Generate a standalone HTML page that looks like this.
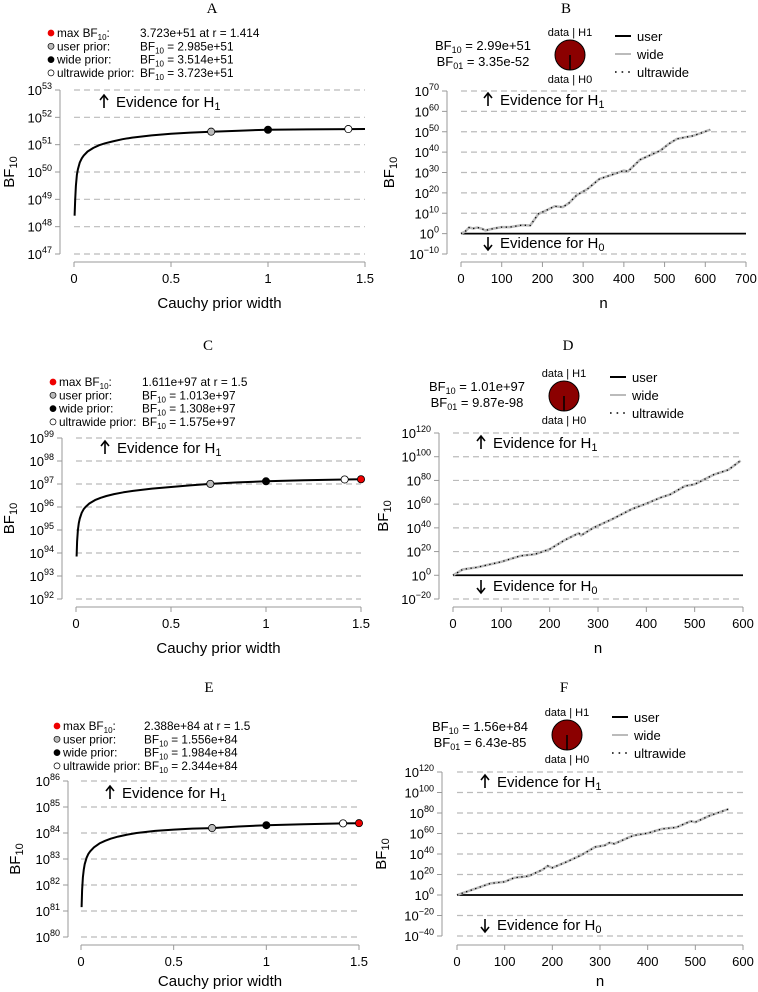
<!DOCTYPE html>
<html><head><meta charset="utf-8"><style>
body{margin:0;background:#fff;}
svg{display:block;font-family:"Liberation Sans",sans-serif;}
</style></head><body>
<svg id="fig" width="758" height="992" viewBox="0 0 758 992"></svg>
<script>
// ---------- DATA ----------
const rA = [0.003,0.006,0.01,0.015,0.02,0.03,0.04,0.05,0.07,0.1,0.13,0.16,0.2,0.25,0.3,0.4,0.5,0.6,0.707,0.85,1,1.2,1.414,1.5];
const bfA = [48.4,49.0,49.5,49.9,50.1,50.35,50.5,50.6,50.75,50.88,50.98,51.05,51.12,51.2,51.26,51.34,51.4,51.44,51.475,51.51,51.546,51.56,51.571,51.572];
const rC = [0.003,0.006,0.01,0.015,0.02,0.03,0.04,0.05,0.07,0.1,0.13,0.16,0.2,0.25,0.3,0.4,0.5,0.6,0.707,0.85,1,1.2,1.414,1.5];
const bfC = [93.85,94.5,95.0,95.3,95.5,95.75,95.9,96.0,96.15,96.3,96.4,96.48,96.56,96.64,96.7,96.8,96.87,96.94,97.006,97.07,97.117,97.16,97.197,97.207];
const rE = [0.003,0.006,0.01,0.015,0.02,0.03,0.04,0.05,0.07,0.1,0.13,0.16,0.2,0.25,0.3,0.4,0.5,0.6,0.707,0.85,1,1.2,1.414,1.5];
const bfE = [81.15,81.8,82.3,82.6,82.8,83.05,83.2,83.3,83.45,83.6,83.7,83.78,83.86,83.94,84.0,84.08,84.13,84.17,84.19,84.25,84.30,84.34,84.37,84.378];
const ptsA = [[0.707,51.475,'#bbb'],[1,51.546,'#000'],[1.414,51.571,'#fff']];
const ptsC = [[0.707,97.006,'#bbb'],[1,97.117,'#000'],[1.414,97.197,'#fff'],[1.5,97.207,'#e00']];
const ptsE = [[0.707,84.19,'#bbb'],[1,84.30,'#000'],[1.414,84.37,'#fff'],[1.5,84.378,'#e00']];
const nB = [0,10,20,30,40,50,60,80,100,120,150,170,190,210,230,250,265,285,310,340,360,380,400,410,440,470,490,510,530,550,570,590,612];
const bfB = [0,1,3,2.5,3,2.5,1.6,2.5,3.2,3.2,4.2,4,9.7,11.5,13.4,13,15,19,21.8,26.8,28.2,29.5,31,30.5,36.3,39,40.8,44,46.5,47.3,48,49.4,51];
const nD = [0,20,50,70,100,140,170,200,230,260,265,290,330,370,400,430,450,480,500,540,570,595];
const bfD = [0,5,6.7,8.6,11.4,16.4,17.8,22,29.4,35.6,33.6,40,47.5,55.8,60.5,65.6,68.3,75.3,76.7,85,89,96.7];
const nF = [0,30,70,100,120,150,180,190,200,230,260,290,310,320,330,370,400,430,460,490,500,530,570];
const bfF = [0,4.8,11.3,12.9,16.8,18.4,24.8,28.4,26.5,32.3,38.7,46.8,48.4,51,50,58,60.3,64.5,66,72,71,77.4,83.9];
const xTicksR = [0,0.5,1,1.5];
const xTickLabR = ['0','0.5','1','1.5'];
const yTicksA = [47,48,49,50,51,52,53];
const yTicksC = [92,93,94,95,96,97,98,99];
const yTicksE = [80,81,82,83,84,85,86];
const xTicksB = [0,100,200,300,400,500,600,700];
const xTicksD = [0,100,200,300,400,500,600];
const yTicksB = [-10,0,10,20,30,40,50,60,70];
const yTicksD = [-20,0,20,40,60,80,100,120];
const yTicksF = [-40,-20,0,20,40,60,80,100,120];
const legA = ['3.723e+51 at r = 1.414','BF10 = 2.985e+51','BF10 = 3.514e+51','BF10 = 3.723e+51'];
const legC = ['1.611e+97 at r = 1.5','BF10 = 1.013e+97','BF10 = 1.308e+97','BF10 = 1.575e+97'];
const legE = ['2.388e+84 at r = 1.5','BF10 = 1.556e+84','BF10 = 1.984e+84','BF10 = 2.344e+84'];

// ---------- DRAW ----------
const NS='http://www.w3.org/2000/svg';
const svg=document.getElementById('fig');
function el(tag,attrs,parent,text){const e=document.createElementNS(NS,tag);for(const k in attrs)e.setAttribute(k,attrs[k]);if(text!==undefined)e.textContent=text;(parent||svg).appendChild(e);return e;}
function sup(parent,x,y,base,exp,anchor,size){
  const t=el('text',{x:x,y:y,'font-size':size||13,'text-anchor':anchor||'start',fill:'#000'},parent);
  const a=document.createElementNS(NS,'tspan');a.textContent=base;t.appendChild(a);
  const b=document.createElementNS(NS,'tspan');b.setAttribute('dy','-6');b.setAttribute('font-size','9');b.textContent=exp;t.appendChild(b);
  return t;
}
function subText(parent,x,y,pre,sub,post,anchor,size){
  const t=el('text',{x:x,y:y,'font-size':size||13,'text-anchor':anchor||'start',fill:'#000'},parent);
  let a=document.createElementNS(NS,'tspan');a.textContent=pre;t.appendChild(a);
  let b=document.createElementNS(NS,'tspan');b.setAttribute('dy','3');b.setAttribute('font-size',Math.round((size||13)*0.7));b.textContent=sub;t.appendChild(b);
  let c=document.createElementNS(NS,'tspan');c.setAttribute('dy','-3');c.textContent=post;t.appendChild(c);
  return t;
}
function lin(d0,d1,p0,p1){return v=>p0+(v-d0)*(p1-p0)/(d1-d0);}

function axes(g,P,xTicks,xLabs,yTicks,xTitle){
  const X=lin(P.xd[0],P.xd[1],P.px0,P.px1), Y=lin(P.yd[0],P.yd[1],P.pyb,P.pyt);
  yTicks.forEach(v=>{const gl=el('line',{x1:P.px0,x2:P.px1,y1:Y(v),y2:Y(v),stroke:'#bbb','stroke-width':1.2,'stroke-dasharray':'6,4'},g);
    });
  el('line',{x1:P.ax,x2:P.ax,y1:Y(yTicks[0]),y2:Y(yTicks[yTicks.length-1]),stroke:'#999'},g);
  yTicks.forEach(v=>{el('line',{x1:P.ax-5,x2:P.ax,y1:Y(v),y2:Y(v),stroke:'#999'},g);
    const t=sup(g,P.ax-8,Y(v)+5,'10',String(v).replace('-','\u2212'),'end',13);
    });
  el('line',{x1:X(xTicks[0]),x2:X(xTicks[xTicks.length-1]),y1:P.ay,y2:P.ay,stroke:'#999'},g);
  xTicks.forEach((v,i)=>{el('line',{x1:X(v),x2:X(v),y1:P.ay,y2:P.ay+5,stroke:'#999'},g);
    const t=el('text',{x:X(v),y:P.ay+21,'font-size':13,'text-anchor':'middle'},g,xLabs[i]);
    });
  const xt=el('text',{x:(X(xTicks[0])+X(xTicks[xTicks.length-1]))/2,y:P.ay+(P.xto||46),'font-size':15,'text-anchor':'middle'},g,xTitle);
  
  const yt=subText(g,0,0,'BF','10','','middle',15);
  yt.setAttribute('transform',`translate(${P.ylx},${(P.pyb+P.pyt)/2}) rotate(-90)`);
  
  const tt=el('text',{x:P.tx,y:P.ty,'font-size':15,'text-anchor':'middle','font-family':'Liberation Serif, serif'},g,P.title);
  
  return [X,Y];
}
function evid(g,x,y,up){
  const a=el('g',{},g);
  
  el('line',{x1:x,x2:x,y1:y-6,y2:y+6,stroke:'#000','stroke-width':1.6},a);
  if(up) el('path',{d:`M${x-4},${y-2} L${x},${y-7} L${x+4},${y-2}`,fill:'none',stroke:'#000','stroke-width':1.6},a);
  else el('path',{d:`M${x-4},${y+2} L${x},${y+7} L${x+4},${y+2}`,fill:'none',stroke:'#000','stroke-width':1.6},a);
  const t=subText(g,x+12,y+5,'Evidence for H',up?'1':'0','','start',15);
  
}

function robust(name,P,rs,bfs,pts,leg,yTicks){
  const g=el('g',{});
  const [X,Y]=axes(g,P,xTicksR,xTickLabR,yTicks,'Cauchy prior width');
  evid(g,P.evx,P.evy,true);
  const d=rs.map((r,i)=>(i?'L':'M')+X(r).toFixed(1)+','+Y(bfs[i]).toFixed(1)).join(' ');
  const c=el('path',{d:d,fill:'none',stroke:'#000','stroke-width':2,'stroke-linejoin':'round'},g);
  
  pts.forEach(p=>{const m=el('circle',{cx:X(p[0]),cy:Y(p[1]),r:3.6,fill:p[2],stroke:'#000','stroke-width':0.8},g);
    });
  const cols=['#e00','#bbb','#000','#fff'];
  const labs=['max BF','user prior:','wide prior:','ultrawide prior:'];
  const fs=11.8;
  for(let i=0;i<4;i++){
    const y=P.ly+i*13.3;
    const m=el('circle',{cx:P.lx,cy:y-4,r:3,fill:cols[i],stroke:i==0?'#e00':'#000','stroke-width':0.7},g);
    
    let t;
    if(i==0) t=subText(g,P.lx+6,y,'max BF','10',':','start',fs);
    else t=el('text',{x:P.lx+6,y:y,'font-size':fs},g,labs[i]);
    
    let v;
    if(i==0) v=el('text',{x:P.vx,y:y,'font-size':fs},g,leg[0]);
    else v=subText(g,P.vx,y,'BF','10',leg[i].slice(4),'start',fs);
    
  }
}

function seq(name,P,ns,bfs,xTicks,yTicks,bf10,bf01){
  const g=el('g',{});
  const [X,Y]=axes(g,P,xTicks,xTicks.map(String),yTicks,'n');
  evid(g,P.evx,P.evy1,true);evid(g,P.evx,P.evy0,false);
  const h=el('line',{x1:P.px0,x2:P.px1,y1:Y(0),y2:Y(0),stroke:'#000','stroke-width':1.8},g);
  
  const d=ns.map((n,i)=>(i?'L':'M')+X(n).toFixed(1)+','+Y(bfs[i]).toFixed(1)).join(' ');
  const w=el('path',{d:d,fill:'none',stroke:'#bbb','stroke-width':2.5},g);
  
  const u=el('path',{d:d,fill:'none',stroke:'#000','stroke-width':1.3,'stroke-dasharray':'1.3,3.5'},g);
  
  const t1=subText(g,P.bx,P.by,'BF','10',' = '+bf10,'middle',13);
  
  const t2=subText(g,P.bx,P.by+16,'BF','01',' = '+bf01,'middle',13);
  
  const pc=el('circle',{cx:P.cx,cy:P.cy,r:15,fill:'#8b0000',stroke:'#000','stroke-width':1},g);
  
  el('line',{x1:P.cx,x2:P.cx,y1:P.cy,y2:P.cy+15,stroke:'#000','stroke-width':1.5},g);
  el('text',{x:P.cx,y:P.cy-19,'font-size':11,'text-anchor':'middle'},g,'data | H1');
  el('text',{x:P.cx,y:P.cy+28,'font-size':11,'text-anchor':'middle'},g,'data | H0');
  const labs=['user','wide','ultrawide'];
  labs.forEach((l,i)=>{const y=P.lgy+i*18;
    if(i==0) el('line',{x1:P.lgx,x2:P.lgx+16,y1:y,y2:y,stroke:'#000','stroke-width':2},g);
    if(i==1) el('line',{x1:P.lgx,x2:P.lgx+16,y1:y,y2:y,stroke:'#bbb','stroke-width':2},g);
    if(i==2) el('line',{x1:P.lgx,x2:P.lgx+16,y1:y,y2:y,stroke:'#000','stroke-width':1.6,'stroke-dasharray':'1.6,5'},g);
    const t=el('text',{x:P.lgx+22,y:y+5,'font-size':13},g,l);
    });
}

robust('panel-a',{xd:[0,1.5],px0:74,px1:365,yd:[47,53],pyb:254,pyt:90,ax:60,ay:262,ylx:14,tx:212,ty:13,title:'A',evx:104,evy:102,lx:51,ly:37,vx:140},rA,bfA,ptsA,legA,yTicksA);
robust('panel-c',{xd:[0,1.5],px0:76,px1:361,yd:[92,99],pyb:599,pyt:438,ax:62,ay:607,ylx:14,tx:208,ty:350,title:'C',evx:105,evy:448,lx:53,ly:386,vx:142},rC,bfC,ptsC,legC,yTicksC);
robust('panel-e',{xd:[0,1.5],px0:81,px1:359,yd:[80,86],pyb:937,pyt:781,ax:68,ay:945,ylx:20,tx:209,ty:692,title:'E',evx:110,evy:793,lx:57,ly:730,vx:144,xto:41},rE,bfE,ptsE,legE,yTicksE);
seq('panel-b',{xd:[0,700],px0:461,px1:746,yd:[-10,70],pyb:254,pyt:91,ax:447,ay:262,ylx:394,tx:566,ty:13,title:'B',evx:488,evy1:100,evy0:243,bx:483,by:50,cx:570,cy:55,lgx:615,lgy:36},nB,bfB,xTicksB,yTicksB,'2.99e+51','3.35e-52');
seq('panel-d',{xd:[0,600],px0:453,px1:743,yd:[-20,120],pyb:599,pyt:433,ax:439,ay:607,ylx:388,tx:568,ty:350,title:'D',evx:481,evy1:443,evy0:586,bx:477,by:391,cx:564,cy:396,lgx:610,lgy:377},nD,bfD,xTicksD,yTicksD,'1.01e+97','9.87e-98');
seq('panel-f',{xd:[0,600],px0:457,px1:743,yd:[-40,120],pyb:936,pyt:772,ax:442,ay:945,ylx:386,tx:564,ty:692,title:'F',evx:485,evy1:782,evy0:925,bx:480,by:731,cx:567,cy:735,lgx:612,lgy:717,xto:41},nF,bfF,xTicksD,yTicksF,'1.56e+84','6.43e-85');
</script>
</body></html>
